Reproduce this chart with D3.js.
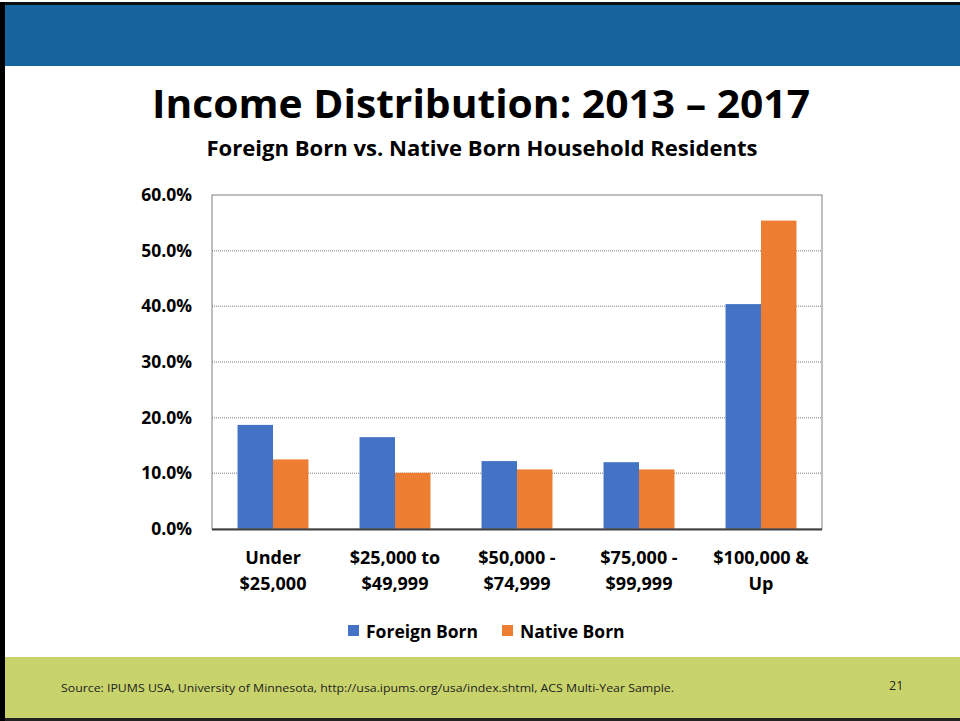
<!DOCTYPE html>
<html>
<head>
<meta charset="utf-8">
<script src="https://cdnjs.cloudflare.com/ajax/libs/d3/7.8.5/d3.min.js"></script>
<style>
  body { margin: 0; padding: 0; background: #fff; }
  svg { display: block; font-family: "Open Sans", Lato, sans-serif; }
</style>
</head>
<body>
<svg id="slide"></svg>
<script>
var categories = [["Under", "$25,000"], ["$25,000 to", "$49,999"], ["$50,000 -", "$74,999"], ["$75,000 -", "$99,999"], ["$100,000 &", "Up"]];
var seriesNames = ["Foreign Born", "Native Born"];
var foreignBorn = [18.7, 16.5, 12.2, 12.0, 40.4];
var nativeBorn = [12.5, 10.1, 10.7, 10.7, 55.4];
var yTicks = [0, 10, 20, 30, 40, 50, 60];
var colors = ["#4472c4", "#ed7d31"];

var W = 960, H = 721;
var svg = d3.select("#slide").attr("width", W).attr("height", H);

// slide frame
svg.append("rect").attr("x", 0).attr("y", 0).attr("width", W).attr("height", H).attr("fill", "#fff");
svg.append("rect").attr("x", 0).attr("y", 2).attr("width", W).attr("height", 64).attr("fill", "#15649e");
svg.append("rect").attr("x", 0).attr("y", 2).attr("width", W).attr("height", 3).attr("fill", "#0a0f14");
svg.append("rect").attr("x", 0).attr("y", 657).attr("width", W).attr("height", 64).attr("fill", "#c8d46b");
svg.append("rect").attr("x", 0).attr("y", 718).attr("width", W).attr("height", 3).attr("fill", "#222");
svg.append("rect").attr("x", 0).attr("y", 2).attr("width", 5).attr("height", H).attr("fill", "#000");

// titles
svg.append("text").attr("x", 481).attr("y", 118).attr("text-anchor", "middle")
  .attr("font-size", 40).attr("font-weight", "bold").attr("fill", "#000")
  .attr("textLength", 658).attr("lengthAdjust", "spacingAndGlyphs")
  .text("Income Distribution: 2013 \u2013 2017");
svg.append("text").attr("x", 482).attr("y", 156).attr("text-anchor", "middle")
  .attr("font-size", 20.5).attr("font-weight", "bold").attr("fill", "#000")
  .attr("textLength", 551).attr("lengthAdjust", "spacingAndGlyphs")
  .text("Foreign Born vs. Native Born Household Residents");

// chart
var margin = {left: 212, top: 195, right: 822, bottom: 529};
var x0 = d3.scaleBand().domain(d3.range(categories.length)).range([margin.left, margin.right]);
var x1 = d3.scaleBand().domain([0, 1]).range([0, x0.bandwidth()]).paddingInner(0).paddingOuter(0.72);
var y = d3.scaleLinear().domain([0, 60]).range([margin.bottom, margin.top]);

var chart = svg.append("g");

// grid
chart.append("g").selectAll("line").data(yTicks.filter(function(d) { return d > 0 && d < 60; }))
  .enter().append("line")
  .attr("x1", margin.left).attr("x2", margin.right)
  .attr("y1", function(d) { return y(d); }).attr("y2", function(d) { return y(d); })
  .attr("stroke", "#a6a6a6").attr("stroke-width", 1.5).attr("stroke-dasharray", "1,1");

// bars
var rows = categories.map(function(c, i) { return [foreignBorn[i], nativeBorn[i]]; });
var groups = chart.append("g").selectAll("g").data(rows).enter().append("g")
  .attr("transform", function(d, i) { return "translate(" + x0(i) + ",0)"; });
groups.selectAll("rect").data(function(d) { return d; }).enter().append("rect")
  .attr("x", function(d, j) { return x1(j); })
  .attr("width", x1.bandwidth())
  .attr("y", function(d) { return y(d); })
  .attr("height", function(d) { return y(0) - y(d); })
  .attr("fill", function(d, j) { return colors[j]; });

// plot border
chart.append("rect").attr("x", margin.left).attr("y", margin.top)
  .attr("width", margin.right - margin.left).attr("height", margin.bottom - margin.top)
  .attr("fill", "none").attr("stroke", "#808080").attr("stroke-width", 1);
chart.append("line").attr("x1", margin.left).attr("x2", margin.right)
  .attr("y1", margin.bottom + 0.5).attr("y2", margin.bottom + 0.5)
  .attr("stroke", "#404040").attr("stroke-width", 2);

// y axis
var yAxis = d3.axisLeft(y).tickValues(yTicks).tickSize(0).tickPadding(20)
  .tickFormat(function(d) { return d.toFixed(1) + "%"; });
var ya = chart.append("g").attr("transform", "translate(" + margin.left + ",0)").call(yAxis);
ya.select(".domain").remove();
ya.selectAll("text").attr("font-size", 17.5).attr("font-weight", "bold").attr("fill", "#000")
  .attr("font-family", "'Open Sans', sans-serif");

// x axis labels
var xa = chart.append("g");
categories.forEach(function(c, i) {
  var t = xa.append("text").attr("x", x0(i) + x0.bandwidth() / 2).attr("y", 564)
    .attr("text-anchor", "middle").attr("font-size", 18).attr("font-weight", "bold").attr("fill", "#000");
  c.forEach(function(line, k) {
    t.append("tspan").attr("x", x0(i) + x0.bandwidth() / 2).attr("dy", k === 0 ? 0 : 26).text(line);
  });
});

// legend
var legend = svg.append("g");
var legX = [348, 502];
seriesNames.forEach(function(n, i) {
  legend.append("rect").attr("x", legX[i]).attr("y", 625).attr("width", 11).attr("height", 11).attr("fill", colors[i]);
  legend.append("text").attr("x", legX[i] + 18).attr("y", 638).attr("font-size", 17.5).attr("font-weight", "bold")
    .attr("fill", "#000").text(n);
});

// footer
svg.append("text").attr("x", 61).attr("y", 692).attr("font-size", 11.5).attr("fill", "#222")
  .attr("textLength", 613).attr("lengthAdjust", "spacingAndGlyphs")
  .text("Source: IPUMS USA, University of Minnesota, http://usa.ipums.org/usa/index.shtml, ACS Multi-Year Sample.");
svg.append("text").attr("x", 889).attr("y", 690).attr("font-size", 12.5).attr("fill", "#222").text("21");
</script>
</body>
</html>
